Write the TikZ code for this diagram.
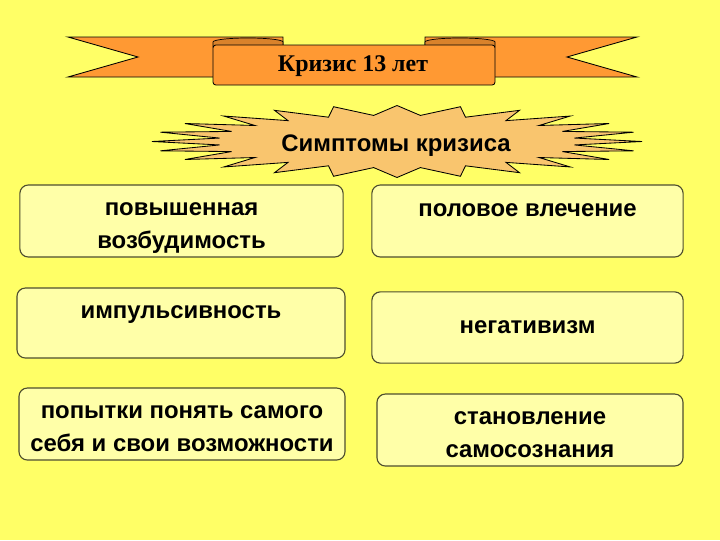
\documentclass[tikz,border=0pt]{standalone}
\usepackage{fontspec}
\setmainfont{Liberation Serif}
\setsansfont{Liberation Sans}
\usetikzlibrary{positioning}

\definecolor{bgyellow}{HTML}{FFFF66}
\definecolor{ribbonorange}{HTML}{FF9933}
\definecolor{folddark}{HTML}{D9822B}
\definecolor{burstfill}{HTML}{F9C56E}
\definecolor{boxfill}{HTML}{FFFFA8}
\definecolor{boxedge}{HTML}{4D4D2E}

\tikzset{
	ribbon/.style={fill=ribbonorange,draw=black,line width=0.6pt},
	fold/.style={fill=folddark,draw=black,line width=0.5pt},
	burst/.style={fill=burstfill,draw=black,line width=0.6pt,line join=miter},
	symbox/.style={draw=boxedge,fill=boxfill,line width=0.8pt,rounded corners=6pt,
		align=center,inner sep=0pt,text height=15pt,text depth=22pt,
		font=\sffamily\bfseries\fontsize{17}{23.5}\selectfont},
	twolines/.style={text height=40.5pt,text depth=2pt}
}

\begin{document}
\begin{tikzpicture}[x=0.025cm,y=-0.025cm]

	\fill[bgyellow] (0,0) rectangle (720,540);
	\useasboundingbox (0,0) rectangle (720,540);

	% ribbon with the title
	\draw[ribbon] (68,37) -- (283,37) -- (283,77) -- (68,77) -- (138,57) -- cycle;
	\draw[ribbon] (425,37) -- (637,37) -- (567,57) -- (637,77) -- (425,77) -- cycle;
	\draw[fold] (213,47) -- (213,42) arc[start angle=180,end angle=360,x radius=35,y radius=4] -- (283,47) -- cycle;
	\draw[fold] (425,47) -- (425,42) arc[start angle=180,end angle=360,x radius=35,y radius=4] -- (495,47) -- cycle;
	\draw[ribbon,rounded corners=2pt] (213,45) rectangle (495,85);
	\node[font=\bfseries\fontsize{17}{20}\selectfont] (crisis) at (353,66) {Кризис 13 лет};

	% burst
	\draw[burst] plot[samples at={0,...,47}]
		({397+(212+33*cos(180*\x))*cos(7.5*\x)},{141.5+(31.15+4.85*cos(180*\x))*sin(7.5*\x)}) -- cycle;
	\node[font=\sffamily\bfseries\fontsize{17}{20}\selectfont] (symptoms) at (396,146) {Симптомы кризиса};

	% symptoms
	\node[symbox,twolines,minimum width=8.08cm,minimum height=1.8cm] (excit) at (181.5,221) {повышенная\\возбудимость};
	\node[symbox,minimum width=8.2cm,minimum height=1.75cm] (impuls) at (181,323) {импульсивность};
	\node[symbox,twolines,minimum width=8.15cm,minimum height=1.8cm] (selfund) at (182,424) {попытки понять самого\\себя и свои возможности};

	\node[symbox,minimum width=7.78cm,minimum height=1.8cm] (sexdrive) at (527.5,221) {половое влечение};
	\node[symbox,minimum width=7.78cm,minimum height=1.78cm,text height=12.8pt,text depth=4pt] (negat) at (527.5,327.5) {негативизм};
	\node[symbox,twolines,minimum width=7.65cm,minimum height=1.8cm] (selfcons) at (530,430) {становление\\самосознания};

\end{tikzpicture}
\end{document}
